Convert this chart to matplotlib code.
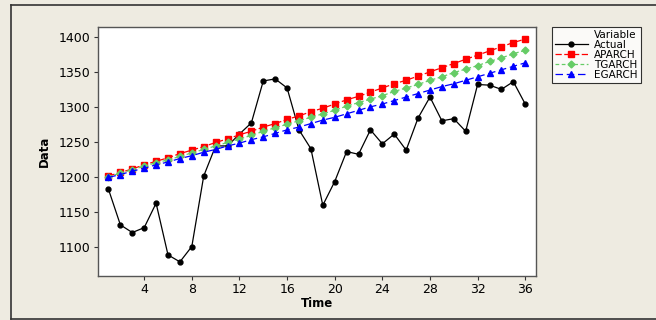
import matplotlib
matplotlib.use('Agg')
import matplotlib.pyplot as plt
from matplotlib.lines import Line2D

# data
time = list(range(1, 37))
actual = [1182, 1131, 1120, 1127, 1162, 1088, 1078, 1100, 1201, 1244,
          1244, 1261, 1277, 1337, 1340, 1327, 1267, 1240, 1159, 1193,
          1236, 1232, 1267, 1247, 1261, 1238, 1284, 1314, 1280, 1283,
          1265, 1332, 1331, 1325, 1336, 1304]
aparch = [1201, 1206, 1211, 1217, 1222, 1227, 1233, 1238, 1243, 1249,
          1254, 1260, 1265, 1271, 1276, 1282, 1287, 1293, 1298, 1304,
          1310, 1315, 1321, 1327, 1333, 1338, 1344, 1350, 1356, 1362,
          1368, 1374, 1380, 1386, 1392, 1397]
tgarch = [1200, 1205, 1210, 1215, 1220, 1224, 1229, 1234, 1239, 1244,
          1249, 1254, 1259, 1265, 1270, 1275, 1280, 1285, 1290, 1295,
          1301, 1306, 1311, 1316, 1322, 1327, 1332, 1338, 1343, 1349,
          1354, 1359, 1365, 1370, 1376, 1381]
egarch = [1199, 1203, 1208, 1212, 1217, 1221, 1226, 1230, 1235, 1239,
          1244, 1248, 1253, 1257, 1262, 1267, 1271, 1276, 1281, 1285,
          1290, 1295, 1300, 1304, 1309, 1314, 1319, 1324, 1329, 1333,
          1338, 1343, 1348, 1353, 1358, 1363]

bg = '#EEEBE1'
fig = plt.figure(figsize=(6.56, 3.2), dpi=100, facecolor=bg)
ax = fig.add_axes([0.149, 0.138, 0.668, 0.777])
ax.set_facecolor('white')

ax.plot(time, actual, color='black', lw=0.9, marker='o', ms=3.5, label='Actual')
ax.plot(time, aparch, color='#FF0000', lw=0.9, ls=(0, (5, 2)), marker='s', ms=4,
        label='APARCH')
ax.plot(time, tgarch, color='#66CC66', lw=0.9, ls=(0, (3, 2)), marker='D', ms=3.5,
        label='TGARCH')
ax.plot(time, egarch, color='#0000FF', lw=0.9, ls=(0, (6, 3)), marker='^', ms=4.8,
        label='EGARCH')

ax.set_xlim(0.1, 36.9)
ax.set_ylim(1058, 1414)
ax.set_xticks(range(4, 37, 4))
ax.set_yticks(range(1100, 1401, 50))
ax.tick_params(direction='out', length=3, width=0.8, labelsize=9, pad=2,
               colors='#333333', labelcolor='black')
for s in ax.spines.values():
    s.set_color('#555555')
    s.set_linewidth(1.0)

ax.set_xlabel('Time', fontsize=8.5, fontweight='bold', labelpad=1)
ax.set_ylabel('Data', fontsize=8.5, fontweight='bold', labelpad=6)

# legend with "Variable" header row
handles, labels = ax.get_legend_handles_labels()
header = Line2D([], [], color='none')
leg = fig.legend([header] + handles, ['Variable'] + labels,
                 loc='upper left', bbox_to_anchor=(0.841, 0.916),
                 fontsize=7.5, frameon=True, fancybox=False, edgecolor='black',
                 handlelength=3.2, handletextpad=0.6, borderpad=0.3,
                 labelspacing=0.0, borderaxespad=0)
leg.get_frame().set_linewidth(0.8)
leg.get_frame().set_facecolor('white')

# outer frame
fig.add_artist(plt.Line2D([0.017, 0.017], [0.003, 0.985], transform=fig.transFigure,
                          color='#333333', lw=1.2))
fig.add_artist(plt.Line2D([0.017, 1.0], [0.985, 0.985], transform=fig.transFigure,
                          color='#333333', lw=1.2))
fig.add_artist(plt.Line2D([0.017, 1.0], [0.003, 0.003], transform=fig.transFigure,
                          color='#333333', lw=1.2))

fig.savefig('out.png', dpi=100, facecolor=bg)
